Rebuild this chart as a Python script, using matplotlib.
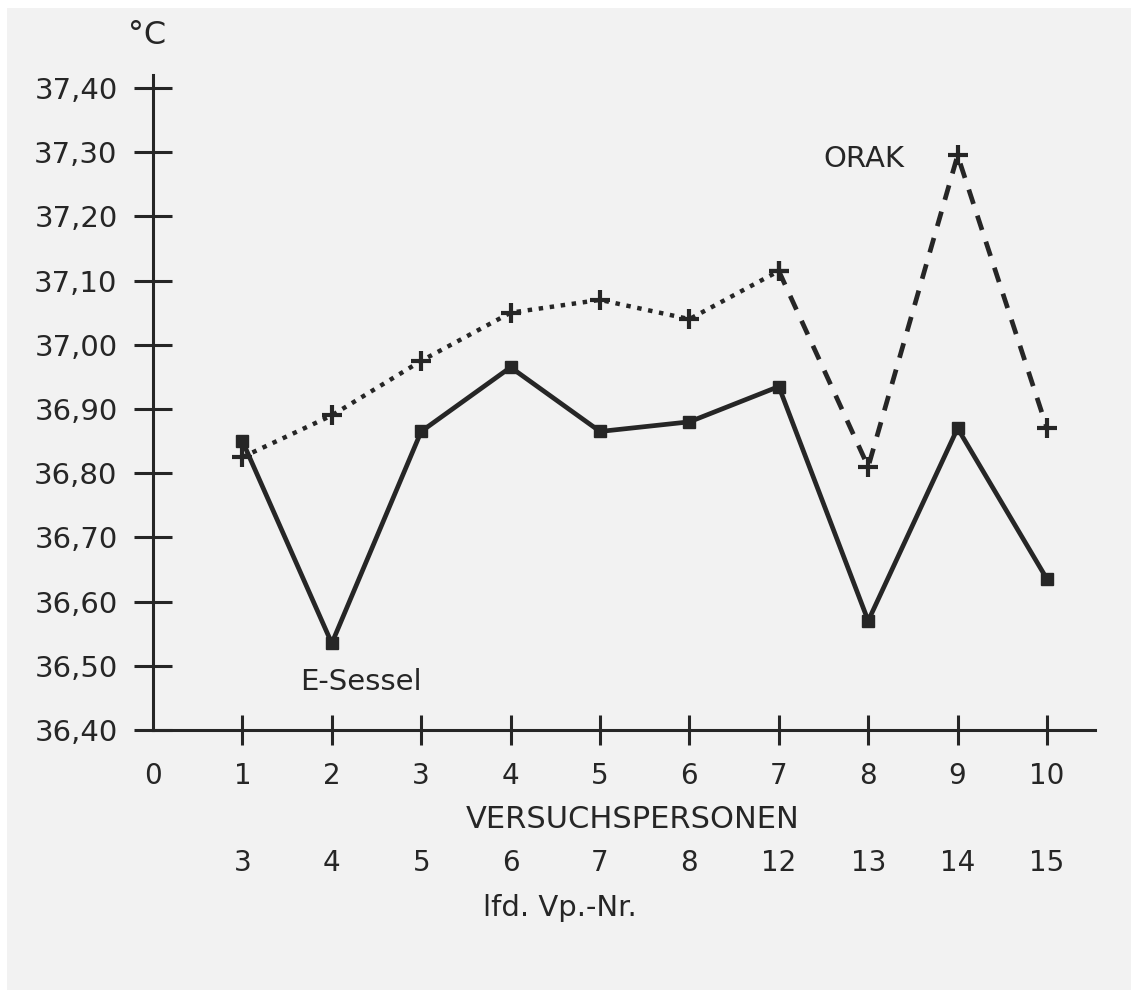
import matplotlib.pyplot as plt
from matplotlib.patches import Rectangle

# Versuchspersonen (laufende Nummer und Vp.-Nr.)
vp = [1, 2, 3, 4, 5, 6, 7, 8, 9, 10]
vp_nr = [3, 4, 5, 6, 7, 8, 12, 13, 14, 15]

# Koerpertemperatur in Grad Celsius
e_sessel = [36.85, 36.535, 36.865, 36.965, 36.865, 36.88, 36.935, 36.57, 36.87, 36.635]
orak = [36.825, 36.89, 36.975, 37.05, 37.07, 37.04, 37.115, 36.81, 37.295, 36.87]

y_ticks = [36.40, 36.50, 36.60, 36.70, 36.80, 36.90, 37.00, 37.10, 37.20, 37.30, 37.40]

ink = '#262626'
paper = '#f2f2f2'
plt.rcParams['font.family'] = ['DejaVu Sans']

fig = plt.figure(figsize=(11.31, 9.90), dpi=100, facecolor='white')
# Papierton des Scans
fig.patches.append(Rectangle((7 / 1131, 0), 1, (990 - 8) / 990, transform=fig.transFigure,
                             facecolor=paper, edgecolor='none', zorder=-10))

ax = fig.add_axes([153 / 1131, (990 - 730) / 990, 942 / 1131, (730 - 75) / 990])
ax.patch.set_visible(False)
ax.set_xlim(0, 942 / 89.4)
ax.set_ylim(36.40, 36.40 + 655 / 642)

for s in ['top', 'right']:
    ax.spines[s].set_visible(False)
for s in ['left', 'bottom']:
    ax.spines[s].set_color(ink)
    ax.spines[s].set_linewidth(2.2)

# Kurven
ax.plot(vp, e_sessel, color=ink, lw=3.4, marker='s', ms=8, zorder=3, clip_on=False)
ax.plot(vp[:7], orak[:7], color=ink, lw=3.2, linestyle=(0, (1, 1.5)),
        marker='+', ms=15, mew=3, zorder=3, clip_on=False)
ax.plot(vp[6:], orak[6:], color=ink, lw=3.4, linestyle=(0, (3.2, 2.6)),
        marker='+', ms=15, mew=3, zorder=3, clip_on=False)

# Achsen mit Kreuzstrichen
ax.set_yticks(y_ticks)
ax.set_yticklabels([f'{t:.2f}'.replace('.', ',') for t in y_ticks])
ax.set_xticks(range(0, 11))
ax.set_xticklabels([str(i) for i in range(0, 11)])
ax.tick_params(axis='y', direction='inout', length=27, width=2.2, color=ink,
               labelsize=21, labelcolor=ink, pad=12)
ax.tick_params(axis='x', direction='inout', length=22, width=2.2, color=ink,
               labelsize=20, labelcolor=ink, pad=12)
ax.get_xticklines()[0].set_visible(False)
ax.get_xticklines()[1].set_visible(False)

# zweite Beschriftungszeile: lfd. Vp.-Nr.
for x, n in zip(vp, vp_nr):
    ax.annotate(str(n), xy=(x, 0), xycoords=('data', 'axes fraction'),
                xytext=(0, -133), textcoords='offset pixels',
                ha='center', va='center', fontsize=20, color=ink)

ax.annotate('VERSUCHSPERSONEN', xy=(0, 0), xycoords='axes fraction',
            xytext=(633 - 153, -90), textcoords='offset pixels',
            ha='center', va='center', fontsize=22, color=ink)
ax.annotate('lfd. Vp.-Nr.', xy=(0, 0), xycoords='axes fraction',
            xytext=(560 - 153, -178), textcoords='offset pixels',
            ha='center', va='center', fontsize=21, color=ink)

fig.text(147 / 1131, 1 - 36 / 990, '°C', ha='center', va='center', fontsize=23, color=ink)

ax.text(2.33, 36.475, 'E-Sessel', ha='center', va='center', fontsize=21, color=ink)
ax.text(7.95, 37.29, 'ORAK', ha='center', va='center', fontsize=21, color=ink)

fig.savefig('out.png', dpi=100, facecolor=fig.get_facecolor())
